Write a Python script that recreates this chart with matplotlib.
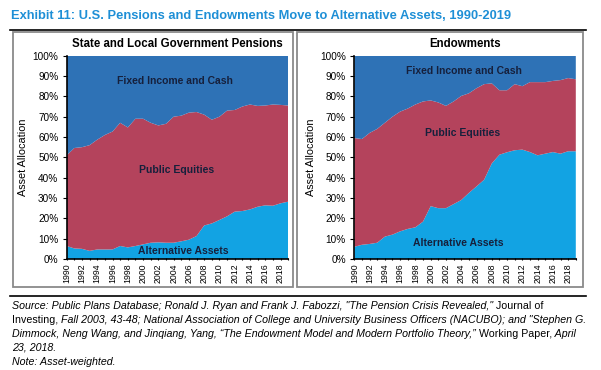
import numpy as np
import matplotlib
matplotlib.use('Agg')
import matplotlib.pyplot as plt
from matplotlib.patches import Rectangle
from matplotlib.lines import Line2D

plt.rcParams['font.family'] = ['Liberation Sans', 'DejaVu Sans']

years = list(range(1990, 2020))

# state & local pensions (% of assets)
pen_alt = [6.4, 5.2, 5.0, 4.0, 4.7, 4.7, 4.7, 6.4, 5.7, 6.4, 7.2, 8.0, 8.2, 8.0, 8.0,
           8.7, 9.5, 11.3, 16.5, 17.5, 19.2, 21.0, 23.3, 23.6, 24.4, 25.7, 26.4, 26.2, 27.4, 28.2]
pen_eq_top = [51.0, 54.6, 55.0, 56.0, 58.7, 61.0, 62.7, 67.0, 64.7, 69.0, 69.0, 67.0, 65.7, 66.5, 70.0,
              70.5, 72.0, 72.3, 71.0, 68.5, 70.0, 73.0, 73.3, 75.0, 76.0, 75.3, 75.5, 76.0, 75.8, 75.5]

# endowments (% of assets)
end_alt = [6.0, 7.0, 7.4, 8.0, 11.0, 12.0, 13.6, 14.8, 15.6, 18.4, 26.0, 25.0, 25.0, 27.0, 29.0,
           32.5, 35.7, 39.0, 47.0, 51.3, 52.5, 53.5, 53.8, 52.6, 51.0, 51.8, 52.6, 51.8, 53.0, 53.0]
end_eq_top = [59.5, 59.0, 62.0, 64.0, 67.0, 70.0, 72.5, 74.0, 76.0, 77.5, 78.0, 77.0, 75.3, 77.5, 80.2,
              81.5, 84.0, 86.0, 86.4, 83.0, 83.0, 86.0, 85.0, 87.0, 87.0, 87.0, 87.6, 88.0, 89.0, 88.4]

pen_eq = list(np.array(pen_eq_top) - np.array(pen_alt))
pen_fi = list(100 - np.array(pen_eq_top))
end_eq = list(np.array(end_eq_top) - np.array(end_alt))
end_fi = list(100 - np.array(end_eq_top))

c_alt = '#12a3e3'
c_eq = '#b4435c'
c_fi = '#2e72b6'
c_lab = '#16203c'

W, H = 601, 370
fig = plt.figure(figsize=(W / 100, H / 100), dpi=100)


def fx(px):
    return px / W


def fy(py):
    return 1 - py / H


# title and rules
fig.text(fx(11), fy(16), 'Exhibit 11: U.S. Pensions and Endowments Move to Alternative Assets, 1990-2019',
         color='#1e8fd6', fontsize=9.3, fontweight='bold', va='center', ha='left')
fig.add_artist(Line2D([fx(10), fx(586)], [fy(29.5), fy(29.5)], color='black', lw=1.2))
fig.add_artist(Line2D([fx(10), fx(586)], [fy(296), fy(296)], color='black', lw=1.2))

# panel boxes
for x0, x1 in [(12.7, 293), (297, 582.7)]:
    fig.add_artist(Rectangle((fx(x0), fy(286.7)), fx(x1) - fx(x0), fy(31.7) - fy(286.7),
                             transform=fig.transFigure, fill=False, ec='#8a8a8a', lw=1.3))

panels = [
    (66.7, 'State and Local Government Pensions', pen_alt, pen_eq, pen_fi,
     [(175, 80.7), (177, 170), (183, 250.7)]),
    (354.3, 'Endowments', end_alt, end_eq, end_fi,
     [(464, 71), (463, 133), (458, 242.7)]),
]

for left, title, alt, eq, fi, labpos in panels:
    ax = fig.add_axes([fx(left), fy(259), fx(221.5), fy(55.7) - fy(259)])
    ax.stackplot(years, alt, eq, fi, colors=[c_alt, c_eq, c_fi], lw=0)
    ax.set_xlim(1990, 2019)
    ax.set_ylim(0, 100)
    ax.set_yticks(range(0, 101, 10))
    ax.set_yticklabels([str(v) + '%' for v in range(0, 101, 10)], fontsize=7.2)
    ax.set_xticks(range(1990, 2019, 2))
    ax.set_xticklabels([str(y) for y in range(1990, 2019, 2)], rotation=90, fontsize=6.3)
    ax.set_xticks(years, minor=True)
    ax.tick_params(axis='y', length=3, width=0.8, pad=3)
    ax.tick_params(axis='x', which='both', length=2, width=0.8, pad=2, direction='inout')
    for s in ['top', 'right']:
        ax.spines[s].set_visible(False)
    for s in ['left', 'bottom']:
        ax.spines[s].set_linewidth(1.2)
    ax.set_ylabel('Asset Allocation', fontsize=7.8, labelpad=3)
    ax.set_title(title, fontsize=8.3, fontweight='bold', pad=6)
    names = ['Fixed Income and Cash', 'Public Equities', 'Alternative Assets']
    for name, (px, py) in zip(names, labpos):
        fig.text(fx(px), fy(py), name, fontsize=7.5, fontweight='bold', color=c_lab,
                 ha='center', va='center')

# source note with mixed italic / upright pieces
src = [
    [('Source: Public Plans Database; Ronald J. Ryan and Frank J. Fabozzi, "The Pension Crisis Revealed," ', 'italic'),
     ('Journal of', 'normal')],
    [('Investing,', 'normal'),
     (' Fall 2003, 43-48; National Association of College and University Business Officers (NACUBO); and "Stephen G.', 'italic')],
    [('Dimmock, Neng Wang, and Jinqiang, Yang, \u201cThe Endowment Model and Modern Portfolio Theory,\u201d', 'italic'),
     (' Working Paper,', 'normal'), (' April', 'italic')],
    [('23, 2018.', 'italic')],
    [('Note: Asset-weighted.', 'italic')],
]

r = fig.canvas.get_renderer()
for i, parts in enumerate(src):
    x = 12
    yy = 306 + i * 14
    for txt, st in parts:
        t = fig.text(fx(x), fy(yy), txt, fontsize=7.7, style=st, va='center', ha='left', color='black')
        bb = t.get_window_extent(renderer=r)
        x += bb.width

fig.savefig('out.png', dpi=100)
